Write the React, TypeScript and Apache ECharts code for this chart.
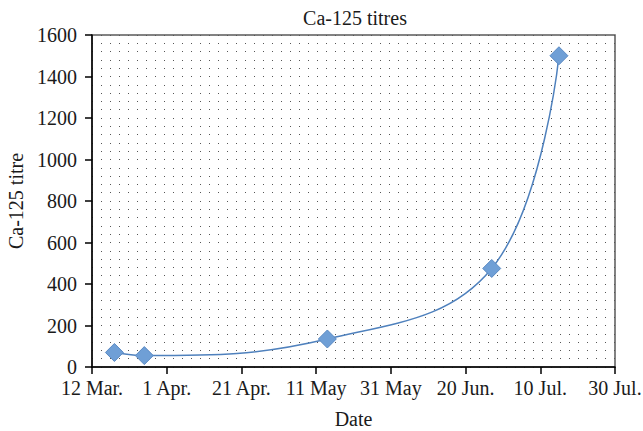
import React, { useEffect, useRef } from "react";
import * as echarts from "echarts";

const titleText = "Ca-125 titres";
const yAxisName = "Ca-125 titre";
const xAxisName = "Date";
const startDate = "2012-03-12";
const tickLabels = ["12 Mar.", "1 Apr.", "21 Apr.", "11 May", "31 May", "20 Jun.", "10 Jul.", "30 Jul."];
const sampleDates = ["2012-03-18", "2012-03-26", "2012-05-14", "2012-06-27", "2012-07-15"];
const ca125Values = [70, 55, 135, 475, 1500];

const dayOffset = (s: string) => Math.round((Date.parse(s) - Date.parse(startDate)) / 86400000);

const FONT = "'Liberation Serif', 'Times New Roman', serif";

export default function App() {
  const ref = useRef<HTMLDivElement>(null);
  useEffect(() => {
    if (!ref.current) return;
    const chart = echarts.init(ref.current, null, { renderer: "svg" });
    const data = sampleDates.map((d, i) => [dayOffset(d), ca125Values[i]]);
    const xMax = (tickLabels.length - 1) * 20;
    chart.setOption({
      animation: false,
      backgroundColor: "#ffffff",
      title: {
        text: titleText,
        left: 350,
        textAlign: "center",
        top: 3,
        textStyle: { fontFamily: FONT, fontSize: 20, fontWeight: "normal", color: "#1a1a1a" },
      },
      grid: {
        left: 92,
        right: 28,
        top: 35,
        bottom: 64,
        containLabel: false,
        outerBoundsMode: "none",
        show: true,
        borderColor: "#5a5a5a",
        borderWidth: 1.5,
        backgroundColor: "#ffffff",
      },
      xAxis: [
        {
          type: "value",
          min: 0,
          max: xMax,
          interval: 20,
          name: xAxisName,
          nameLocation: "middle",
          nameGap: 42,
          nameTextStyle: { fontFamily: FONT, fontSize: 20, color: "#1a1a1a" },
          axisLine: { show: true, onZero: false, lineStyle: { color: "#000", width: 1.5 } },
          axisTick: { show: true, inside: false, length: 7, lineStyle: { color: "#000", width: 1.5 } },
          axisLabel: {
            margin: 11,
            fontFamily: FONT,
            fontSize: 20,
            color: "#1a1a1a",
            formatter: (v: number) => tickLabels[Math.round(v / 20)] ?? "",
          },
          splitLine: { show: false },
        },
      ],
      yAxis: [
        {
          type: "value",
          min: 0,
          max: 1600,
          interval: 200,
          name: yAxisName,
          nameLocation: "middle",
          nameGap: 53,
          nameTextStyle: { fontFamily: FONT, fontSize: 20, color: "#1a1a1a" },
          axisLine: { show: true, lineStyle: { color: "#000", width: 1.5 } },
          axisTick: { show: true, inside: false, length: 7, lineStyle: { color: "#000", width: 1.5 } },
          axisLabel: {
            margin: 15,
            fontFamily: FONT,
            fontSize: 20,
            color: "#1a1a1a",
            formatter: (v: number) => String(v),
          },
          splitLine: { show: false },
        },
        {
          type: "value",
          min: 0,
          max: 1600,
          interval: 40,
          position: "left",
          axisLine: { show: false },
          axisTick: { show: false },
          axisLabel: { show: false },
          splitLine: {
            show: true,
            lineStyle: { color: "#555555", width: 1, type: [1, 8] },
          },
        },
      ],
      series: [
        {
          type: "line",
          data,
          xAxisIndex: 0,
          yAxisIndex: 0,
          smooth: 0.4,
          symbol: "diamond",
          symbolSize: 18,
          lineStyle: { color: "#4f81bd", width: 1.5 },
          itemStyle: { color: "#6f9fd6", borderColor: "#5a8ac4", borderWidth: 1 },
          z: 5,
        },
      ],
    });
    return () => chart.dispose();
  }, []);
  return <div ref={ref} style={{ width: 643, height: 431, position: "absolute", left: 0, top: 0 }} />;
}
